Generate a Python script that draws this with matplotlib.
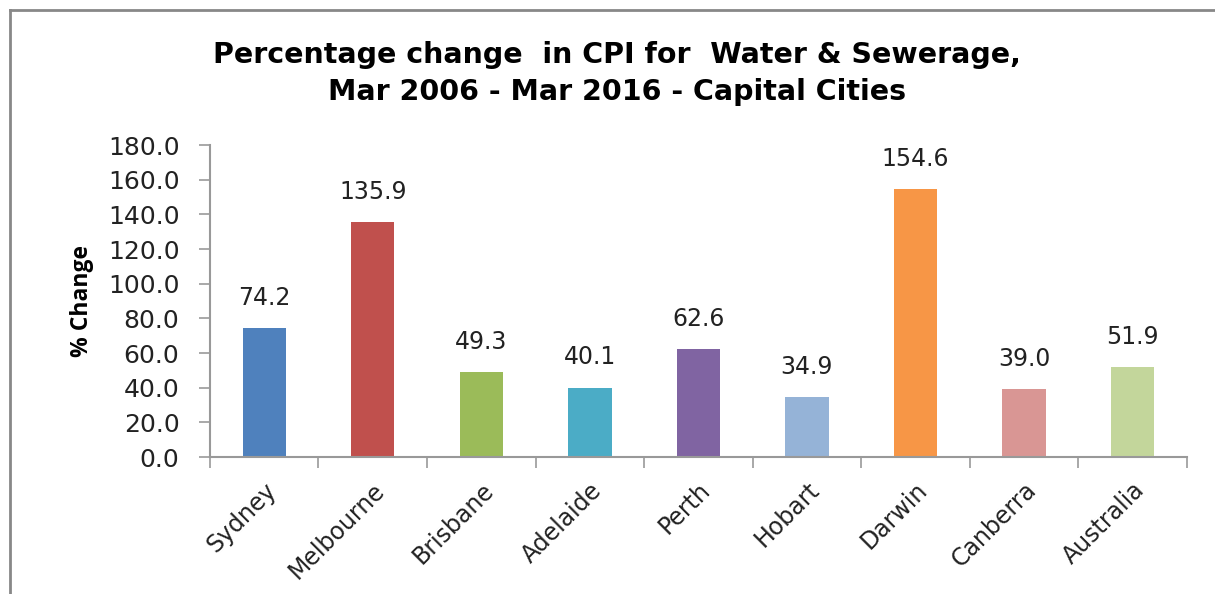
import numpy as np
import matplotlib.pyplot as plt
from matplotlib.lines import Line2D

#%% data
cities = ["Sydney", "Melbourne", "Brisbane", "Adelaide", "Perth",
          "Hobart", "Darwin", "Canberra", "Australia"]
pct_change = [74.2, 135.9, 49.3, 40.1, 62.6, 34.9, 154.6, 39.0, 51.9]
bar_colors = ["#4F81BD", "#C0504D", "#9BBB59", "#4BACC6", "#8064A2",
              "#95B3D7", "#F79646", "#D99694", "#C3D69B"]
y_ticks = np.arange(0, 181, 20)

plt.rcParams['font.family'] = ['DejaVu Sans']

#%% plot
fig = plt.figure(figsize=(12.15, 5.94), dpi=100)
ax = fig.add_axes([0.1728, 0.2306, 0.804, 0.525])

x = np.arange(len(cities))
ax.bar(x, pct_change, width=0.4, color=bar_colors, zorder=2)

for xi, v in zip(x, pct_change):
    ax.annotate(f"{v:.1f}", (xi, v), xytext=(0, 13), textcoords='offset points',
                ha='center', va='bottom', fontsize=17, color='#222222')

ax.set_xlim(-0.5, len(cities) - 0.5)
ax.set_ylim(0, 180)
ax.set_yticks(y_ticks)
ax.set_yticklabels([f"{t:.1f}" for t in y_ticks], fontsize=18, color='#222222')
ax.set_xticks(x)
ax.set_xticklabels(cities, rotation=45, ha='right', rotation_mode='anchor',
                   fontsize=17, color='#222222')
ax.tick_params(axis='x', length=0, pad=15)
ax.set_xticks(np.arange(-0.5, len(cities)), minor=True)
ax.tick_params(axis='x', which='minor', length=8, color='#999999', width=1.2)
ax.tick_params(axis='y', length=8, color='#999999', width=1.2, pad=14)

ax.spines['top'].set_visible(False)
ax.spines['right'].set_visible(False)
for s in ('left', 'bottom'):
    ax.spines[s].set_color('#999999')
    ax.spines[s].set_linewidth(1.5)

ax.set_ylabel('% Change', fontsize=16.5, fontweight='bold', labelpad=10,
              family=['Open Sans', 'DejaVu Sans'])

fig.text(0.508, 0.876, "Percentage change  in CPI for  Water & Sewerage,\nMar 2006 - Mar 2016 - Capital Cities",
         ha='center', va='center', fontsize=20.5, fontweight='bold', linespacing=1.42)

# chart border (left and top edges)
fig.add_artist(Line2D([10/1215, 10/1215], [0, 1 - 10/594], transform=fig.transFigure,
                      color='#888888', linewidth=2))
fig.add_artist(Line2D([10/1215, 1], [1 - 10/594, 1 - 10/594], transform=fig.transFigure,
                      color='#888888', linewidth=2))

fig.savefig('out.png', dpi=100)
